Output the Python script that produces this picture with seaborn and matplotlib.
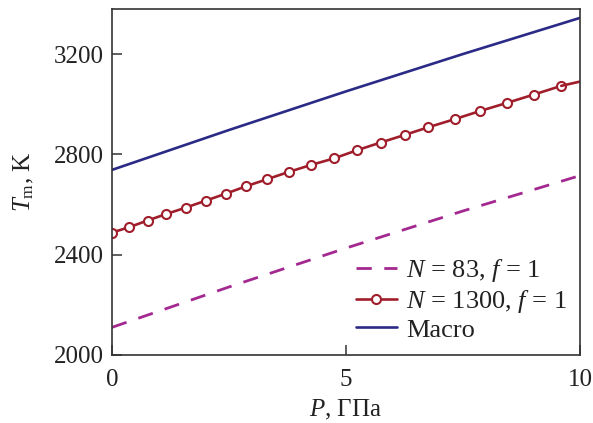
import matplotlib
matplotlib.use("Agg")
import matplotlib.pyplot as plt
import seaborn as sns
import pandas as pd

# Data
p_n83 = [0.0, 2.5, 5.0, 7.5, 10.0]
t_n83 = [2110, 2271, 2426, 2574, 2715]

p_n1300 = [0.0, 0.36, 0.76, 1.16, 1.57, 2.00, 2.43, 2.87, 3.32, 3.78, 4.26,
           4.75, 5.23, 5.74, 6.25, 6.76, 7.32, 7.87, 8.44, 9.01, 9.60]
t_n1300 = [2488, 2509, 2536, 2562, 2587, 2615, 2643, 2673, 2701, 2730, 2758,
           2784, 2816, 2847, 2877, 2908, 2940, 2973, 3005, 3038, 3073]
p_n1300_end = [9.60, 10.0]
t_n1300_end = [3073, 3090]

p_macro = [0.0, 2.5, 5.0, 7.5, 10.0]
t_macro = [2738, 2897, 3051, 3200, 3344]

labels = [r"$N$ = 83, $f$ = 1", r"$N$ = 1300, $f$ = 1", "Macro"]
x_ticks = [0, 5, 10]
y_ticks = [2000, 2400, 2800, 3200]

sns.set_style("ticks")
plt.rcParams["font.family"] = ["Liberation Serif", "DejaVu Serif"]
plt.rcParams["mathtext.fontset"] = "custom"
plt.rcParams["mathtext.rm"] = "Liberation Serif"
plt.rcParams["mathtext.it"] = "Liberation Serif:italic"

c_purple = "#a3288f"
c_red = "#a01e2b"
c_blue = "#2b2a86"
FS = 18

fig = plt.figure(figsize=(5.93, 4.23), dpi=100)
ax = fig.add_axes([0.189, 0.161, 0.789, 0.818])

df83 = pd.DataFrame({"P": p_n83, "T": t_n83})
df1300 = pd.DataFrame({"P": p_n1300, "T": t_n1300})
df1300e = pd.DataFrame({"P": p_n1300_end, "T": t_n1300_end})
dfm = pd.DataFrame({"P": p_macro, "T": t_macro})

sns.lineplot(data=df83, x="P", y="T", ax=ax, color=c_purple, lw=2.0,
             linestyle=(0, (5.5, 4.5)), label=labels[0])
sns.lineplot(data=df1300, x="P", y="T", ax=ax, color=c_red, lw=1.9,
             marker="o", markersize=6.5, markerfacecolor="white",
             markeredgecolor=c_red, markeredgewidth=1.5, label=labels[1])
sns.lineplot(data=df1300e, x="P", y="T", ax=ax, color=c_red, lw=1.9)
sns.lineplot(data=dfm, x="P", y="T", ax=ax, color=c_blue, lw=1.9, label=labels[2])

ax.set_xlim(0, 10)
ax.set_ylim(2000, 3380)
ax.set_xticks(x_ticks)
ax.set_yticks(y_ticks)
ax.tick_params(direction="in", length=7, width=1.1, colors="#333333",
               labelsize=FS, labelcolor="#222222", pad=6)
ax.tick_params(axis="x", pad=10)
for s in ax.spines.values():
    s.set_color("#333333")
    s.set_linewidth(1.2)

ax.set_xlabel(r"$P$, ГПа", fontsize=FS, color="#222222", labelpad=5)
ax.set_ylabel(r"$T_{\mathrm{m}}$, K", fontsize=FS, color="#222222", labelpad=13)

handles, labs = ax.get_legend_handles_labels()
leg = ax.legend(handles[:3], labs[:3], loc="lower right", frameon=False,
                fontsize=19, handlelength=1.55, handletextpad=0.35,
                labelspacing=0.13, borderaxespad=0.1)
for t in leg.get_texts():
    t.set_color("#222222")

fig.savefig("out.png", dpi=100)
